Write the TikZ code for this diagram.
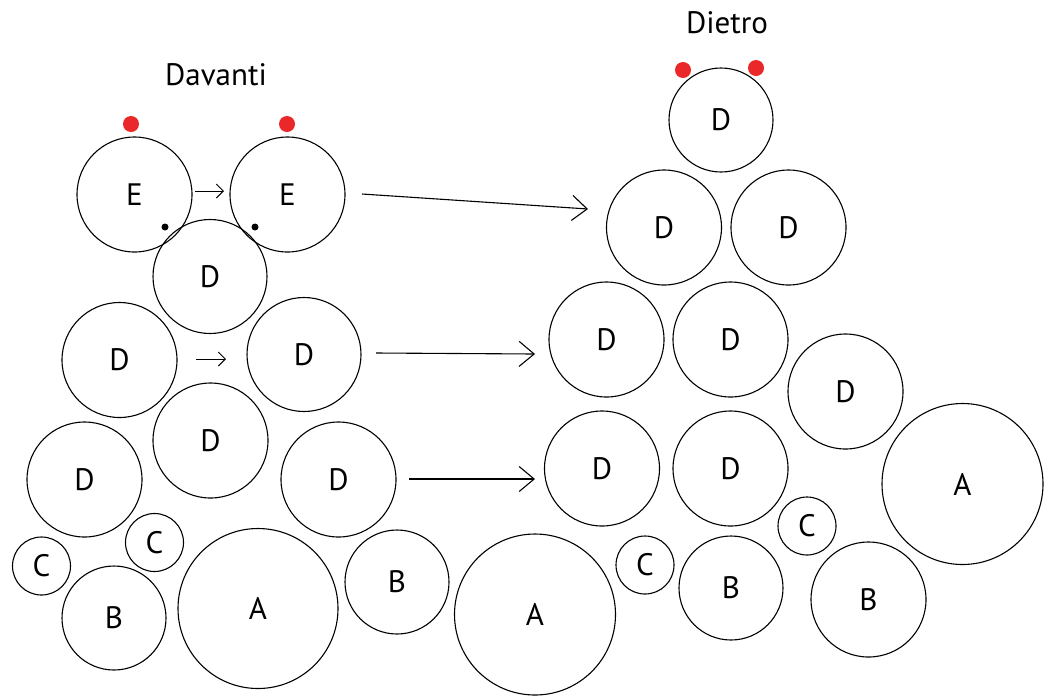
\documentclass[tikz,border=0pt]{standalone}
\usepackage{fontspec}
\setmainfont{PT Sans}
\usetikzlibrary{arrows.meta}
\definecolor{dotred}{RGB}{234,40,42}
\newcommand{\labfont}{\fontsize{31}{37}\selectfont}
\tikzset{
  ring/.style={circle,draw,line width=1.1pt,inner sep=0pt,font=\labfont},
  reddot/.style={circle,fill=dotred,inner sep=0pt,minimum size=16pt},
  blackdot/.style={circle,fill=black,inner sep=0pt,minimum size=7pt},
  smallarrow/.style={line width=0.9pt,-{Straight Barb[length=7pt,width=14pt,line width=0.9pt]}},
  longarrow/.style={line width=1.1pt,-{Straight Barb[length=15pt,width=25pt,line width=1.1pt]}},
  title/.style={font=\labfont,inner sep=0pt}
}
\begin{document}
\begin{tikzpicture}[x=1pt,y=-1pt]
\useasboundingbox (0,0) rectangle (1051,697);
% titles
\node[title] (tdav) at (216,75) {Davanti};
\node[title] (tdie) at (727,23) {Dietro};
% left group
\node[ring,minimum size=115pt] (e1) at (134.5,194.5) {E};
\node[ring,minimum size=115pt] (e2) at (287.5,194.5) {E};
\node[ring,minimum size=114pt] (ld1) at (210,276.5) {D};
\node[ring,minimum size=115pt] (ld2) at (119.5,360) {D};
\node[ring,minimum size=114pt] (ld3) at (304,354.5) {D};
\node[ring,minimum size=115pt] (ld4) at (210.5,440.5) {D};
\node[ring,minimum size=115pt] (ld5) at (84.5,479.5) {D};
\node[ring,minimum size=115pt] (ld6) at (338.5,479.5) {D};
\node[ring,minimum size=58pt] (lc1) at (41.5,566) {C};
\node[ring,minimum size=58pt] (lc2) at (154.5,542.5) {C};
\node[ring,minimum size=104pt] (lb1) at (114,618) {B};
\node[ring,minimum size=160pt] (la1) at (258,608.5) {A};
\node[ring,minimum size=104pt] (lb2) at (397,582) {B};
\node[ring,minimum size=161pt] (ma) at (535,614.5) {A};
% right group
\node[ring,minimum size=104pt] (rd0) at (721,120) {D};
\node[ring,minimum size=115pt] (rd1) at (664,227.5) {D};
\node[ring,minimum size=115pt] (rd2) at (788.5,227.5) {D};
\node[ring,minimum size=115pt] (rd3) at (606.5,339.5) {D};
\node[ring,minimum size=115pt] (rd4) at (730.5,339.5) {D};
\node[ring,minimum size=115pt] (rd5) at (845.5,391.5) {D};
\node[ring,minimum size=115pt] (rd6) at (602,468.5) {D};
\node[ring,minimum size=115pt] (rd7) at (730.5,468.5) {D};
\node[ring,minimum size=161pt] (ra) at (962.5,484) {A};
\node[ring,minimum size=58pt] (rc1) at (807,526) {C};
\node[ring,minimum size=58pt] (rc2) at (645,565) {C};
\node[ring,minimum size=104pt] (rb1) at (731,588) {B};
\node[ring,minimum size=115pt] (rb2) at (868.5,599.5) {B};
% dots
\node[reddot] (r1) at (131,124) {};
\node[reddot] (r2) at (287,124) {};
\node[reddot] (r3) at (683,70) {};
\node[reddot] (r4) at (756,68) {};
\node[blackdot] (k1) at (165,227) {};
\node[blackdot] (k2) at (255,227) {};
% arrows
\coordinate (s1a) at (195,191); \coordinate (s1b) at (224,191);
\coordinate (s2a) at (196,359); \coordinate (s2b) at (226,359);
\coordinate (l1a) at (362,194); \coordinate (l1b) at (588,209);
\coordinate (l2a) at (376,353); \coordinate (l2b) at (535,354);
\coordinate (l3a) at (409,479); \coordinate (l3b) at (535,479);
\draw[smallarrow] (s1a) -- (s1b);
\draw[smallarrow] (s2a) -- (s2b);
\draw[longarrow] (l1a) -- (l1b);
\draw[longarrow] (l2a) -- (l2b);
\draw[longarrow] (l3a) -- (l3b);
\end{tikzpicture}
\end{document}
